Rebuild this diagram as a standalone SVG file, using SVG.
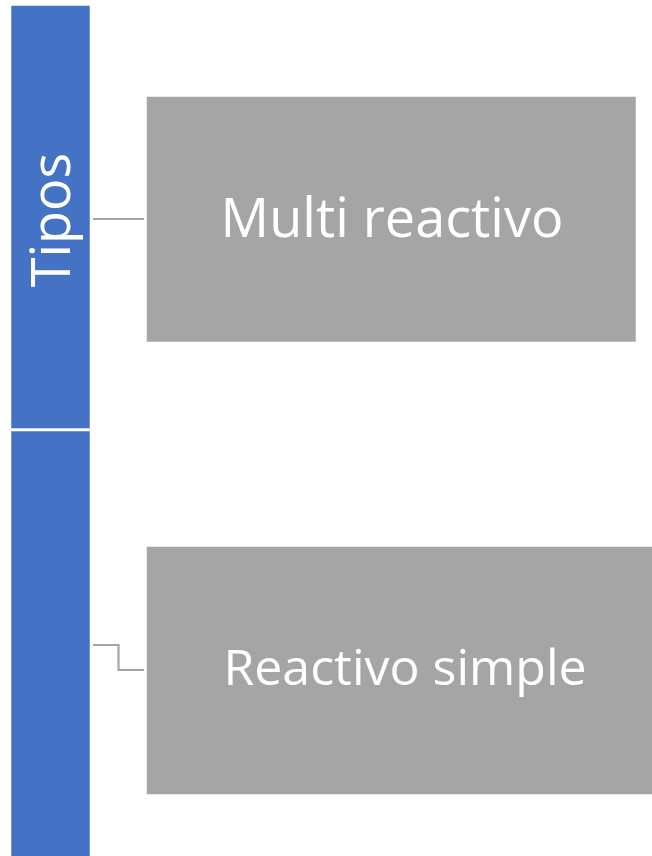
<svg xmlns="http://www.w3.org/2000/svg" width="652" height="856" viewBox="0 0 652 856">
<style>
.bar{fill:#4472C4;stroke:#FFFFFF;stroke-width:1.5}
.box{fill:#A5A5A5;stroke:#FFFFFF;stroke-width:1.5}
.lbl{fill:#FFFFFF;font-family:"Open Sans","Liberation Sans",sans-serif;text-anchor:middle}
.conn{fill:none;stroke:#A5A5A5;stroke-width:2.2}
</style>
<rect width="652" height="856" fill="#FFFFFF"/>
<g id="tipos">
<rect class="bar" x="10.5" y="5" width="80" height="424"/>
<text class="lbl" x="70" y="220" font-size="54" transform="rotate(-90 70 220)">Tipos</text>
</g>
<g id="tipos-lower">
<rect class="bar" x="10.5" y="430.5" width="80" height="430"/>
</g>
<g id="connectors">
<line class="conn" x1="93" y1="219" x2="144" y2="219"/>
<polyline class="conn" points="93,645 118.5,645 118.5,670 144,670"/>
</g>
<g id="multi-reactivo">
<rect class="box" x="146" y="96" width="490.5" height="246.5"/>
<text class="lbl" x="392" y="236.5" font-size="54">Multi reactivo</text>
</g>
<g id="reactivo-simple">
<rect class="box" x="146" y="546" width="520" height="249"/>
<text class="lbl" x="405" y="684.5" font-size="50">Reactivo simple</text>
</g>
</svg>
